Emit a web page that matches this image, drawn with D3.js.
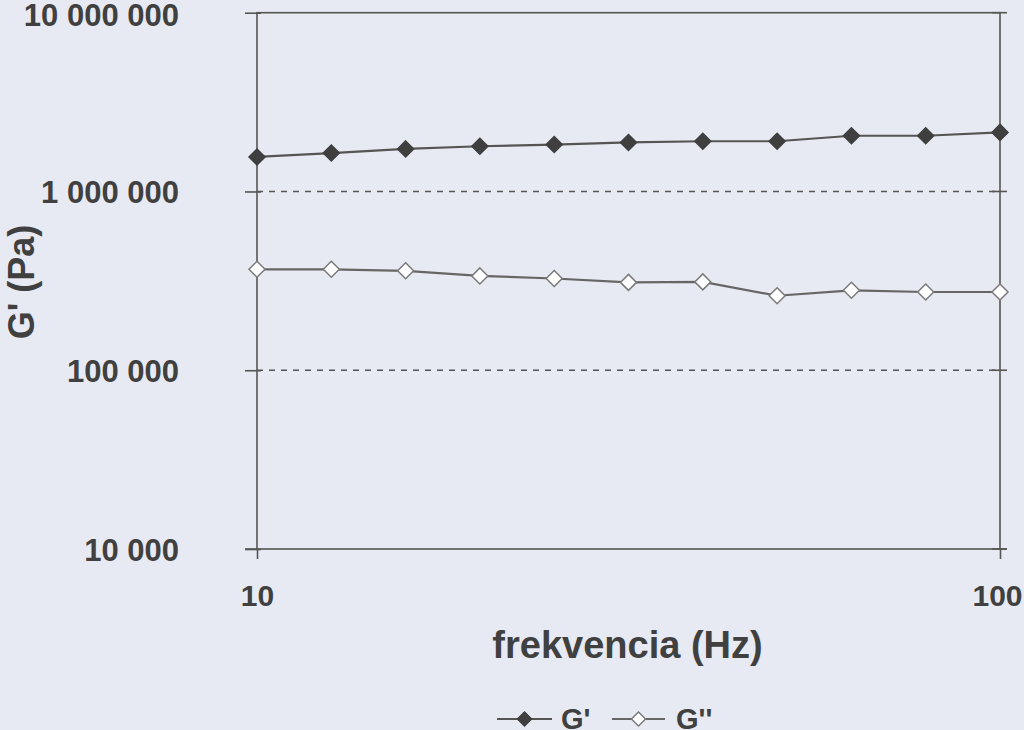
<!DOCTYPE html>
<html>
<head>
<meta charset="utf-8">
<script src="https://cdn.jsdelivr.net/npm/d3@7/dist/d3.min.js"></script>
<style>
  html, body { margin: 0; padding: 0; background: #e7eaf2; }
  svg { display: block; }
  text { font-family: "Liberation Sans", Arial, sans-serif; font-weight: bold; fill: #404040; }
</style>
</head>
<body>
<svg id="chart" width="1024" height="730"></svg>
<script>
// ---- data ----
const frequencies = [10, 12.59, 15.85, 19.95, 25.12, 31.62, 39.81, 50.12, 63.10, 79.43, 100];
const gPrime      = [1560000, 1640000, 1730000, 1790000, 1830000, 1880000, 1910000, 1910000, 2050000, 2050000, 2140000];
const gDouble     = [367000, 367000, 360000, 337000, 326000, 310000, 312000, 261000, 280000, 274000, 274000];
const yTicks = [10000, 100000, 1000000, 10000000];
const yTickLabels = ["10 000", "100 000", "1 000 000", "10 000 000"];
const xTicks = [10, 100];
const xTickLabels = ["10", "100"];
const seriesNames = ["G'", "G''"];

// ---- layout ----
const W = 1024, H = 730;
const pLeft = 257, pRight = 1000, pTop = 12.7, pBottom = 549;
const axisColor = "#555";

const svg = d3.select("#chart");
svg.append("rect").attr("width", W).attr("height", H).attr("fill", "#e7eaf2");

const x = d3.scaleLog().domain([10, 100]).range([pLeft, pRight]);
const y = d3.scaleLog().domain([10000, 10000000]).range([pBottom, pTop]);

// grid lines (dashed) for inner decades
svg.append("g").selectAll("line")
  .data(yTicks.filter(v => v > 10000 && v < 10000000))
  .join("line")
  .attr("x1", pLeft).attr("x2", pRight)
  .attr("y1", d => y(d)).attr("y2", d => y(d))
  .attr("stroke", "#555").attr("stroke-width", 1.5)
  .attr("stroke-dasharray", "6,6");

// plot frame
svg.append("rect")
  .attr("x", pLeft).attr("y", pTop)
  .attr("width", pRight - pLeft).attr("height", pBottom - pTop)
  .attr("fill", "none").attr("stroke", axisColor).attr("stroke-width", 1.6);

// left y axis
const yAxisL = d3.axisLeft(y).tickValues(yTicks).tickFormat((d, i) => yTickLabels[i])
  .tickSizeInner(12).tickSizeOuter(0).tickPadding(66);
const gyl = svg.append("g").attr("transform", `translate(${pLeft},0)`).call(yAxisL);
gyl.select(".domain").remove();
gyl.selectAll(".tick line").attr("stroke", axisColor).attr("stroke-width", 1.6);
gyl.selectAll(".tick text").attr("font-size", 31).attr("fill", "#404040")
  .style("font-family", "'Liberation Sans', Arial, sans-serif").style("font-weight", "bold")
  .attr("dy", (d, i) => i === yTicks.length - 1 ? "0.42em" : "0.36em");
gyl.selectAll(".tick").append("line").attr("x1", 0).attr("x2", 4)
  .attr("stroke", axisColor).attr("stroke-width", 1.6);

// right y ticks (crossing)
const gyr = svg.append("g").attr("transform", `translate(${pRight},0)`);
gyr.selectAll("line").data(yTicks).join("line")
  .attr("x1", -8).attr("x2", 7)
  .attr("y1", d => y(d)).attr("y2", d => y(d))
  .attr("stroke", axisColor).attr("stroke-width", 1.6);

// bottom x axis
const xAxis = d3.axisBottom(x).tickValues(xTicks).tickFormat((d, i) => xTickLabels[i])
  .tickSizeInner(10).tickSizeOuter(0).tickPadding(26);
const gx = svg.append("g").attr("transform", `translate(0,${pBottom})`).call(xAxis);
gx.select(".domain").remove();
gx.selectAll(".tick line").attr("stroke", axisColor).attr("stroke-width", 1.6);
gx.selectAll(".tick text").attr("font-size", 30).attr("fill", "#404040")
  .style("font-family", "'Liberation Sans', Arial, sans-serif").style("font-weight", "bold")
  .attr("dx", (d, i) => i === xTicks.length - 1 ? -3 : 0);
svg.append("line").attr("x1", pLeft - 12).attr("x2", pLeft).attr("y1", pBottom).attr("y2", pBottom)
  .attr("stroke", axisColor).attr("stroke-width", 1.6);
svg.append("line").attr("x1", pRight).attr("x2", pRight + 7).attr("y1", pBottom).attr("y2", pBottom)
  .attr("stroke", axisColor).attr("stroke-width", 1.6);

// axis titles
svg.append("text").attr("x", (pLeft + pRight) / 2 - 1).attr("y", 658)
  .attr("text-anchor", "middle").attr("font-size", 38).text("frekvencia (Hz)");
svg.append("text").attr("transform", `translate(34,282) rotate(-90)`)
  .attr("text-anchor", "middle").attr("font-size", 36).text("G' (Pa)");

// series
const series = [
  { name: seriesNames[0], values: gPrime, fill: "#3f3f3f", stroke: "#555", mstroke: "#3f3f3f" },
  { name: seriesNames[1], values: gDouble, fill: "#ffffff", stroke: "#666", mstroke: "#7a7a7a" }
];
const line = d3.line().x(d => x(d[0])).y(d => y(d[1]));
const diamondPath = "M0,-8L8,0L0,8L-8,0Z";

series.forEach(s => {
  const pts = frequencies.map((f, i) => [f, s.values[i]]);
  svg.append("path").datum(pts).attr("d", line)
    .attr("fill", "none").attr("stroke", s.stroke).attr("stroke-width", 2.2);
  svg.append("g").selectAll("path").data(pts).join("path")
    .attr("d", diamondPath)
    .attr("transform", d => `translate(${x(d[0])},${y(d[1])})`)
    .attr("fill", s.fill).attr("stroke", s.mstroke).attr("stroke-width", 1.5);
});

// legend
const legY = 719;
const legendItems = [
  { x0: 497, x1: 552, tx: 561 },
  { x0: 612, x1: 665, tx: 676 }
];
legendItems.forEach((L, i) => {
  const s = series[i];
  svg.append("line").attr("x1", L.x0).attr("x2", L.x1).attr("y1", legY).attr("y2", legY)
    .attr("stroke", s.stroke).attr("stroke-width", 2);
  svg.append("path").attr("d", "M0,-7L7,0L0,7L-7,0Z")
    .attr("transform", `translate(${(L.x0 + L.x1) / 2},${legY})`)
    .attr("fill", s.fill).attr("stroke", s.mstroke).attr("stroke-width", 1.5);
  svg.append("text").attr("x", L.tx).attr("y", 729).attr("font-size", 29).text(s.name);
});
</script>
</body>
</html>
